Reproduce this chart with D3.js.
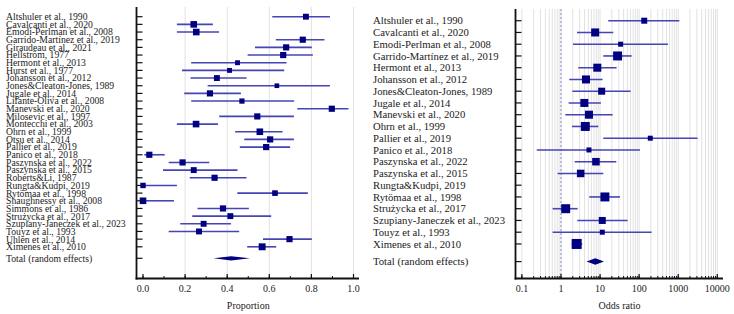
<!DOCTYPE html>
<html>
<head>
<meta charset="utf-8">
<script src="https://cdn.jsdelivr.net/npm/d3@7"></script>
<style>
  body { margin: 0; background: #fff; }
  svg { display: block; }
  text { font-family: "Liberation Serif", "Times New Roman", serif; fill: #222; }
</style>
</head>
<body>
<svg width="734" height="314"></svg>
<script>
// **** Data: proportion forest plot ****
var propStudies = ["Altshuler et al., 1990", "Cavalcanti et al., 2020", "Emodi-Perlman et al., 2008",
  "Garrido-Martínez et al., 2019", "Giraudeau et al., 2021", "Hellström, 1977", "Hermont et al., 2013",
  "Hurst et al., 1977", "Johansson et al., 2012", "Jones&Cleaton-Jones, 1989", "Jugale et al., 2014",
  "Lifante-Oliva et al., 2008", "Manevski et al., 2020", "Milosevic et al., 1997", "Montecchi et al., 2003",
  "Ohrn et al., 1999", "Otsu et al., 2014", "Pallier et al., 2019", "Panico et al., 2018",
  "Paszynska et al., 2022", "Paszynska et al., 2015", "Roberts&Li, 1987", "Rungta&Kudpi, 2019",
  "Rytömaa et al., 1998", "Shaughnessy et al., 2008", "Simmons et al., 1986", "Strużycka et al., 2017",
  "Szupiany-Janeczek et al., 2023", "Touyz et al., 1993", "Uhlén et al., 2014", "Ximenes et al., 2010"];
var propValues = [0.774, 0.241, 0.253, 0.759, 0.680, 0.666, 0.449, 0.411, 0.351, 0.636, 0.318,
  0.470, 0.897, 0.543, 0.252, 0.555, 0.604, 0.585, 0.030, 0.188, 0.241, 0.340, 0.0,
  0.627, 0.0, 0.380, 0.415, 0.288, 0.266, 0.696, 0.566];
var propLow = [0.614, 0.161, 0.161, 0.631, 0.532, 0.497, 0.229, 0.185, 0.226, 0.307, 0.196,
  0.229, 0.733, 0.362, 0.161, 0.438, 0.481, 0.460, 0.006, 0.122, 0.095, 0.222, 0.0,
  0.448, 0.0, 0.259, 0.234, 0.177, 0.122, 0.570, 0.495];
var propHigh = [0.888, 0.332, 0.361, 0.862, 0.802, 0.807, 0.682, 0.671, 0.492, 0.888, 0.465,
  0.718, 0.976, 0.717, 0.356, 0.663, 0.717, 0.699, 0.103, 0.315, 0.449, 0.492, 0.161,
  0.783, 0.147, 0.503, 0.609, 0.418, 0.457, 0.802, 0.633];
var propWeight = [3.2, 4.0, 4.0, 3.5, 3.5, 3.5, 2.2, 2.2, 3.2, 2.0, 3.5, 2.5, 3.5, 3.5, 4.0, 4.0,
  3.5, 3.5, 3.5, 3.5, 3.2, 3.5, 2.7, 2.9, 4.0, 3.5, 3.2, 3.2, 3.2, 3.5, 4.4];
var propTotal = [0.419, 0.335, 0.508];
var propTicks = [0, 0.2, 0.4, 0.6, 0.8, 1.0];

// **** Data: odds ratio forest plot ****
var orStudies = ["Altshuler et al., 1990", "Cavalcanti et al., 2020", "Emodi-Perlman et al., 2008",
  "Garrido-Martínez et al., 2019", "Hermont et al., 2013", "Johansson et al., 2012",
  "Jones&Cleaton-Jones, 1989", "Jugale et al., 2014", "Manevski et al., 2020", "Ohrn et al., 1999",
  "Pallier et al., 2019", "Panico et al., 2018", "Paszynska et al., 2022", "Paszynska et al., 2015",
  "Rungta&Kudpi, 2019", "Rytömaa et al., 1998", "Strużycka et al., 2017",
  "Szupiany-Janeczek et al., 2023", "Touyz et al., 1993", "Ximenes et al., 2010"];
var orValues = [135, 7.5, 33.6, 28.1, 8.5, 4.36, 11.0, 3.96, 5.2, 4.19, 193, 5.2, 7.85, 3.19,
  null, 13.3, 1.32, 11.4, 11.4, 2.52];
var orLow = [16.2, 2.57, 2.03, 12.1, 2.77, 1.63, 1.95, 1.57, 1.29, 1.91, 12.1, 0.24, 2.24, 0.82,
  null, 5.3, 0.61, 2.62, 0.61, 1.88];
var orHigh = [1070, 21.8, 546, 64.2, 26.5, 11.6, 60.5, 10.5, 21.0, 9.0, 3130, 105, 26.0, 12.1,
  null, 32.3, 2.67, 50.7, 208, 3.5];
var orWeight = [3.3, 5.9, 2.3, 7.4, 5.9, 5.9, 4.5, 5.9, 5.9, 7.4, 2.3, 2.3, 5.2, 5.2, null,
  7.4, 7.4, 4.5, 2.3, 9.2];
var orTotal = [7.55, 4.53, 12.6];
var orTicks = [0.1, 1, 10, 100, 1000, 10000];

var svg = d3.select('svg');

var navy = '#000080';
var ciColor = '#4545b5';

// **** Scales ****
var propX = d3.scaleLinear().domain([0, 1]).range([143, 353.5]);
var propY = d3.scaleLinear().domain([0, propStudies.length + 0.5])
  .range([16.7, 16.7 + (propStudies.length + 0.5) * 7.67]);

var orX = d3.scaleLog().domain([0.1, 10000]).range([521.9, 717.3]);
var orY = d3.scaleLinear().domain([0, orStudies.length + 0.5])
  .range([20.7, 20.7 + (orStudies.length + 0.5) * 11.75]);

// marker side from weight (%)
function side(w) { return 3.3 * Math.sqrt(w); }

function drawPanel(cfg) {
  var g = svg.append('g');
  var n = cfg.studies.length;
  var step = cfg.y(1) - cfg.y(0);

  // grid lines
  g.selectAll('.grid').data(cfg.grid).enter().append('line')
    .attr('x1', function(d){ return cfg.x(d); })
    .attr('x2', function(d){ return cfg.x(d); })
    .attr('y1', cfg.top).attr('y2', cfg.axisY)
    .style('stroke', '#e2e2e2').style('stroke-width', 1);

  if (cfg.refLine !== undefined) {
    g.append('line')
      .attr('x1', cfg.x(cfg.refLine)).attr('x2', cfg.x(cfg.refLine))
      .attr('y1', cfg.top).attr('y2', cfg.axisY)
      .style('stroke', '#8a8ad0').style('stroke-width', 1)
      .style('stroke-dasharray', '2,2');
  }

  // study labels
  g.selectAll('.lab').data(cfg.studies).enter().append('text')
    .attr('x', cfg.labelX)
    .attr('y', function(d, i){ return cfg.y(i); })
    .attr('dy', '0.35em')
    .style('font-size', cfg.fontSize + 'px')
    .text(function(d){ return d; });

  g.append('text')
    .attr('x', cfg.labelX)
    .attr('y', cfg.y(n + 0.5))
    .attr('dy', '0.35em')
    .style('font-size', cfg.fontSize + 'px')
    .text('Total (random effects)');

  // confidence intervals
  cfg.studies.forEach(function(s, i) {
    if (cfg.values[i] === null) return;
    g.append('line')
      .attr('x1', cfg.x(cfg.low[i])).attr('x2', cfg.x(cfg.high[i]))
      .attr('y1', cfg.y(i)).attr('y2', cfg.y(i))
      .style('stroke', ciColor).style('stroke-width', 1.6);
    var s2 = side(cfg.weight[i]);
    g.append('rect')
      .attr('x', cfg.x(cfg.values[i]) - s2 / 2)
      .attr('y', cfg.y(i) - s2 / 2)
      .attr('width', s2).attr('height', s2)
      .style('fill', navy);
  });

  // pooled diamond
  var ty = cfg.y(n + 0.5), h = step * 0.28;
  g.append('path')
    .attr('d', 'M' + cfg.x(cfg.total[1]) + ',' + ty +
      'L' + cfg.x(cfg.total[0]) + ',' + (ty - h) +
      'L' + cfg.x(cfg.total[2]) + ',' + ty +
      'L' + cfg.x(cfg.total[0]) + ',' + (ty + h) + 'Z')
    .style('fill', navy);

  // y axis with row ticks
  g.append('line')
    .attr('x1', cfg.axisX).attr('x2', cfg.axisX)
    .attr('y1', cfg.top).attr('y2', cfg.axisY + 1)
    .style('stroke', '#111').style('stroke-width', 1.8);
  var rows = d3.range(n).concat([n + 0.5]);
  g.selectAll('.ytick').data(rows).enter().append('line')
    .attr('x1', cfg.axisX).attr('x2', cfg.axisX + 6)
    .attr('y1', function(d){ return cfg.y(d); })
    .attr('y2', function(d){ return cfg.y(d); })
    .style('stroke', '#111').style('stroke-width', 1.2);

  // x axis
  g.append('line')
    .attr('x1', cfg.axisX - 0.9).attr('x2', cfg.axisEnd)
    .attr('y1', cfg.axisY).attr('y2', cfg.axisY)
    .style('stroke', '#111').style('stroke-width', 1.8);
  g.selectAll('.minor').data(cfg.minor).enter().append('line')
    .attr('x1', function(d){ return cfg.x(d); })
    .attr('x2', function(d){ return cfg.x(d); })
    .attr('y1', cfg.axisY).attr('y2', cfg.axisY - 2.5)
    .style('stroke', '#111').style('stroke-width', 1);
  g.selectAll('.major').data(cfg.ticks).enter().append('line')
    .attr('x1', function(d){ return cfg.x(d); })
    .attr('x2', function(d){ return cfg.x(d); })
    .attr('y1', cfg.axisY).attr('y2', cfg.axisY - 4.5)
    .style('stroke', '#111').style('stroke-width', 1.2);
  g.selectAll('.tlab').data(cfg.ticks).enter().append('text')
    .attr('x', function(d){ return cfg.x(d); })
    .attr('y', cfg.axisY + 13.5)
    .attr('text-anchor', 'middle')
    .style('font-size', '10px')
    .text(cfg.format);

  var r = cfg.x.range();
  g.append('text')
    .attr('x', (r[0] + r[1]) / 2)
    .attr('y', cfg.axisY + 30)
    .attr('text-anchor', 'middle')
    .style('font-size', '10px')
    .text(cfg.title);
}

var orGrid = [];
[0.1, 1, 10, 100, 1000].forEach(function(b){
  for (var k = 1; k <= 9; k++) orGrid.push(b * k);
});
orGrid.push(10000);

drawPanel({
  studies: propStudies, values: propValues, low: propLow, high: propHigh,
  weight: propWeight, total: propTotal, ticks: propTicks,
  minor: d3.range(0, 1.01, 0.1),
  grid: [0.2, 0.4, 0.6, 0.8, 1.0],
  x: propX, y: propY, labelX: 6, fontSize: 9.7,
  axisX: 136.5, axisY: 278.5, top: 7, axisEnd: 359,
  format: d3.format('.1f'), title: 'Proportion'
});

drawPanel({
  studies: orStudies, values: orValues, low: orLow, high: orHigh,
  weight: orWeight, total: orTotal, ticks: orTicks,
  minor: orGrid, grid: orGrid, refLine: 1,
  x: orX, y: orY, labelX: 373, fontSize: 10.7,
  axisX: 515.5, axisY: 278.5, top: 9, axisEnd: 723,
  format: function(d){ return String(d); }, title: 'Odds ratio'
});
</script>
</body>
</html>
